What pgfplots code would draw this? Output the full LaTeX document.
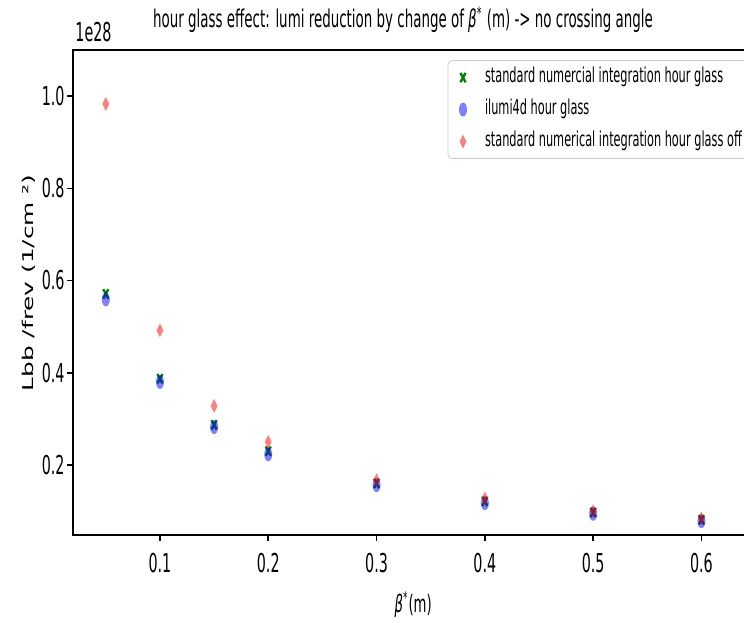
\documentclass[border=0pt]{standalone}
\usepackage{fontspec}
\setmainfont{DejaVu Sans}[FakeStretch=0.55, ItalicFont={DejaVu Sans Oblique}, BoldFont={DejaVu Sans Bold}]
\newfontfamily\ylfont{DejaVu Sans}
\usepackage{pgfplots}
\pgfplotsset{compat=1.18}
\definecolor{mgreen}{RGB}{0,128,0}
\begin{document}
\begin{tikzpicture}
\begin{axis}[
  scale only axis,
  clip mode=individual,
  width=337.5pt, height=242.5pt,
  xmin=0.0197, xmax=0.643,
  ymin=0.048, ymax=1.1,
  axis line style={line width=0.8pt},
  xtick={0.1,0.2,0.3,0.4,0.5,0.6},
  ytick={0.2,0.4,0.6,0.8,1.0},
  xtick pos=left, ytick pos=left,
  tick align=outside,
  major tick length=3pt,
  tick style={line width=0.8pt, black},
  /pgf/number format/assume math mode=true,
  xticklabel style={font=\fontsize{13}{15}\selectfont, inner sep=1pt, yshift=-5pt, /pgf/number format/.cd, fixed, precision=1},
  yticklabel style={font=\fontsize{13}{15}\selectfont, inner sep=1pt, /pgf/number format/.cd, fixed, fixed zerofill, precision=1},
  title={hour glass effect: lumi reduction by change of {\itshape β}\textsuperscript{*} (m) -> no crossing angle},
  title style={font=\fontsize{12.2}{14}\selectfont, at={(axis description cs:0.489,1)}, anchor=base, yshift=5pt, inner sep=0pt},
  xlabel={{\itshape β}\textsuperscript{*}(m)},
  xlabel style={font=\fontsize{12}{14}\selectfont, at={(axis description cs:0.504,0)}, anchor=base, yshift=-38.5pt, inner sep=0pt},
  ylabel={\scalebox{1}[0.6]{\ylfont\fontsize{12.4}{14}\selectfont Lbb /frev (1/cm ²)}},
  ylabel style={at={(axis description cs:-0.059,0.52)}, anchor=base, inner sep=0pt},
  legend style={at={(axis description cs:0.555,0.979)}, anchor=north west,
    draw=black!20, rounded corners=2pt, fill=white,
    font=\fontsize{10.3}{12}\selectfont,
    inner xsep=5.5pt, inner ysep=2.5pt, row sep=4pt,
    nodes={text height=7.5pt, text depth=2.5pt, inner sep=1pt},
    column sep=8pt},
  legend cell align=left,
  legend image code/.code={\draw[mark repeat=2,mark phase=2,#1] plot coordinates {(0pt,0pt)(4pt,0pt)(8pt,0pt)};},
]
\addplot[only marks, color=mgreen, mark=x, mark size=3.3pt, mark options={xscale=0.55, line width=1.2pt}]
coordinates {(0.05,0.571)(0.1,0.387)(0.15,0.287)(0.2,0.230)(0.3,0.160)(0.4,0.121)(0.5,0.097)(0.6,0.081)};
\addlegendentry{standard numercial integration hour glass}
\addplot[only marks, color=blue, mark=*, mark size=3.5pt, mark options={xscale=0.57, fill=blue, draw opacity=0, fill opacity=0.5}]
coordinates {(0.05,0.559)(0.1,0.380)(0.15,0.282)(0.2,0.223)(0.3,0.156)(0.4,0.117)(0.5,0.094)(0.6,0.078)};
\addlegendentry{ilumi4d hour glass}
\addplot[only marks, color=red, mark=diamond*, mark size=3.5pt, mark options={xscale=0.65, fill=red, draw opacity=0, fill opacity=0.5}]
coordinates {(0.05,0.983)(0.1,0.492)(0.15,0.328)(0.2,0.250)(0.3,0.167)(0.4,0.127)(0.5,0.100)(0.6,0.084)};
\addlegendentry{standard numerical integration hour glass off}
\node[anchor=base west, inner sep=0pt, font=\fontsize{13}{15}\selectfont] at (axis description cs:0.003,1) [yshift=4pt] {1e28};
\end{axis}
\pgfresetboundingbox
\useasboundingbox (-36.5pt,-43.5pt) rectangle (335.5pt,267.5pt);
\end{tikzpicture}
\end{document}
